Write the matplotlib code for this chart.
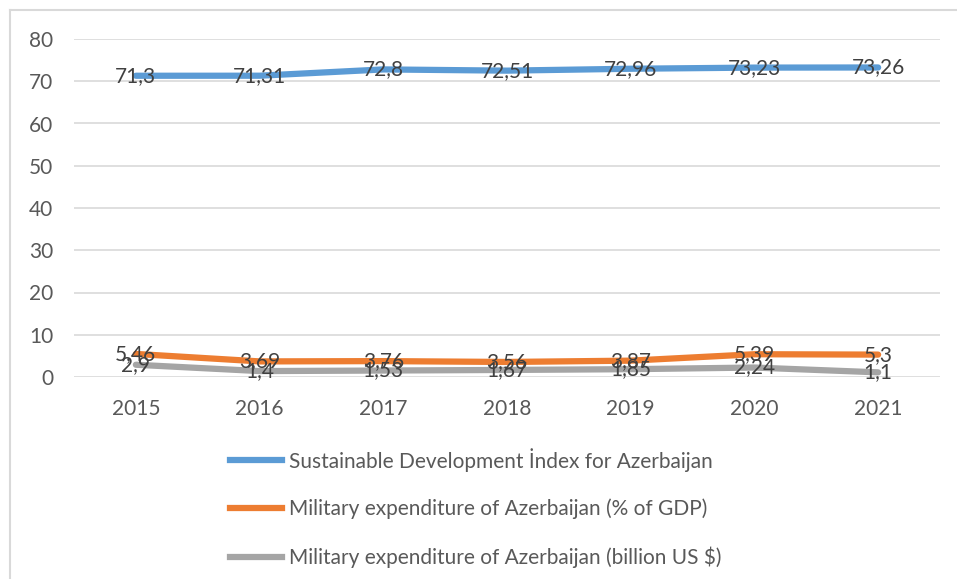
import matplotlib
matplotlib.use("Agg")
import matplotlib.pyplot as plt
from matplotlib.lines import Line2D

years = ["2015", "2016", "2017", "2018", "2019", "2020", "2021"]
sdi = [71.3, 71.31, 72.8, 72.51, 72.96, 73.23, 73.26]
mil_gdp = [5.46, 3.69, 3.76, 3.56, 3.87, 5.39, 5.3]
mil_usd = [2.9, 1.4, 1.53, 1.67, 1.85, 2.24, 1.1]

series = [
    ("Sustainable Development İndex for Azerbaijan", sdi, "#5B9BD5"),
    ("Military expenditure of Azerbaijan (% of GDP)", mil_gdp, "#ED7D31"),
    ("Military expenditure of Azerbaijan (billion US $)", mil_usd, "#A5A5A5"),
]

plt.rcParams["font.family"] = ["Lato", "DejaVu Sans"]
FS = 15

fig = plt.figure(figsize=(9.57, 5.79), dpi=100)
ax = fig.add_axes([74 / 957, 1 - 377 / 579, (940 - 74) / 957, (377 - 39) / 579])

x = list(range(len(years)))
# draw in reverse so the blue line sits on top like the original
for label, vals, color in reversed(series):
    ax.plot(x, vals, color=color, lw=4.5, solid_capstyle="round", label=label, zorder=3)

for label, vals, color in series:
    for xi, v in zip(x, vals):
        ax.text(xi, v, f"{v:g}".replace(".", ","), ha="center", va="center",
                fontsize=FS, color="#404040", zorder=4)

ax.set_xlim(-0.5, len(years) - 0.5)
ax.set_ylim(0, 80)
ax.set_yticks(range(0, 81, 10))
ax.set_xticks(x)
ax.set_xticklabels(years)
ax.yaxis.grid(True, color="#D9D9D9", lw=1.2)
ax.set_axisbelow(True)
for s in ax.spines.values():
    s.set_visible(False)
ax.tick_params(length=0, labelsize=FS, colors="#595959")
ax.tick_params(axis="y", pad=15)
ax.tick_params(axis="x", pad=16)

handles = [Line2D([], [], color=c, lw=4.5) for _, _, c in series]
labels = [l for l, _, _ in series]
fig.legend(handles, labels, loc="center left", bbox_to_anchor=(230 / 957, 1 - 508 / 579),
           frameon=False, fontsize=FS, labelcolor="#595959", handlelength=2.5,
           handletextpad=0.35, labelspacing=1.3, borderpad=0, borderaxespad=0)

# chart area border (only left and top visible in the crop)
fig.add_artist(Line2D([10 / 957, 10 / 957], [0, 1 - 10 / 579], color="#D9D9D9", lw=1.5,
                      transform=fig.transFigure))
fig.add_artist(Line2D([10 / 957, 1], [1 - 10 / 579, 1 - 10 / 579], color="#D9D9D9", lw=1.5,
                      transform=fig.transFigure))

fig.savefig("out.png", dpi=100, facecolor="white")
